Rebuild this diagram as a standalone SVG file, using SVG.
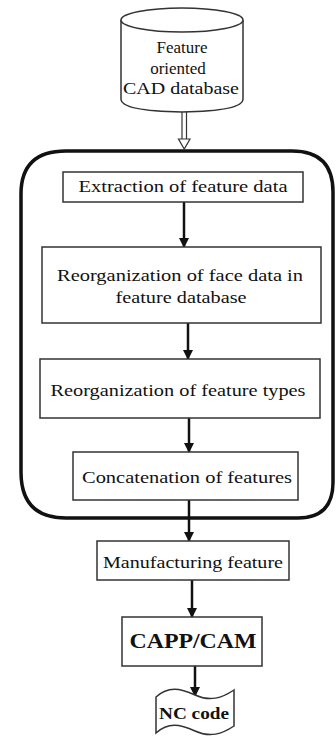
<svg xmlns="http://www.w3.org/2000/svg" width="336" height="736" viewBox="0 0 336 736">
<defs>
<style>
.box{fill:#fff;stroke:#333;stroke-width:1.5}
text{font-family:'Liberation Serif','Times New Roman','DejaVu Serif',serif;font-size:17px;fill:#111;text-anchor:middle}
.b{font-weight:bold}
.c{stroke:#111;stroke-width:2.5;fill:none}
</style>
<marker id="arr" viewBox="0 0 10 10" refX="9" refY="5" markerWidth="4.4" markerHeight="4" orient="auto" markerUnits="strokeWidth">
<path d="M0,0 L10,5 L0,10 Z" fill="#111"/>
</marker>
</defs>
<rect width="336" height="736" fill="#fff"/>

<g id="container">
<path d="M66,151 L292,151 Q333,151 333,192 L333,482 Q333,518 298,518 L66,518 Q21,518 21,472 L21,194 Q21,151 66,151 Z" fill="none" stroke="#111" stroke-width="3.5"/>
</g>

<g id="connectors">
<line x1="182" y1="112" x2="182" y2="139" stroke="#333" stroke-width="1.2"/>
<line x1="186.5" y1="112" x2="186.5" y2="139" stroke="#333" stroke-width="1.2"/>
<path d="M178.5,139 L190,139 L184.25,149 Z" fill="#fff" stroke="#333" stroke-width="1.2"/>
<line class="c" x1="184" y1="202" x2="184" y2="247" marker-end="url(#arr)"/>
<line class="c" x1="188" y1="323" x2="188" y2="359" marker-end="url(#arr)"/>
<line class="c" x1="189" y1="418" x2="189" y2="452" marker-end="url(#arr)"/>
<line class="c" x1="189" y1="500" x2="189" y2="541" marker-end="url(#arr)"/>
<line class="c" x1="192" y1="580" x2="192" y2="617" marker-end="url(#arr)"/>
<line class="c" x1="195" y1="666" x2="195" y2="696" marker-end="url(#arr)"/>
</g>

<g id="cad-db">
<path d="M121,20 L121,99 Q121,111 182,112 Q243,111 243,99 L243,20" fill="#fff" stroke="#333" stroke-width="1.5"/>
<ellipse cx="182" cy="20" rx="61" ry="12" fill="#fff" stroke="#333" stroke-width="1.5"/>
<text font-family="Liberation Serif, serif" x="182" y="53">Feature</text>
<text font-family="Liberation Serif, serif" x="178" y="74">oriented</text>
<text font-family="Liberation Serif, serif" x="181" y="94" textLength="116" lengthAdjust="spacingAndGlyphs">CAD database</text>
</g>

<g id="extraction">
<rect class="box" x="63" y="172" width="240" height="30"/>
<text font-family="Liberation Serif, serif" x="183" y="192" textLength="209" lengthAdjust="spacingAndGlyphs">Extraction of feature data</text>
</g>

<g id="reorg-face">
<rect class="box" x="42" y="247" width="279" height="76"/>
<text font-family="Liberation Serif, serif" x="180" y="281" textLength="246" lengthAdjust="spacingAndGlyphs">Reorganization of face data in</text>
<text font-family="Liberation Serif, serif" x="181" y="303" textLength="131" lengthAdjust="spacingAndGlyphs">feature database</text>
</g>

<g id="reorg-types">
<rect class="box" x="40" y="359" width="280" height="59"/>
<text font-family="Liberation Serif, serif" x="178" y="396" textLength="255" lengthAdjust="spacingAndGlyphs">Reorganization of feature types</text>
</g>

<g id="concat">
<rect class="box" x="73" y="452" width="225" height="48"/>
<text font-family="Liberation Serif, serif" x="187" y="483" textLength="210" lengthAdjust="spacingAndGlyphs">Concatenation of features</text>
</g>

<g id="mfg">
<rect class="box" x="97" y="541" width="192" height="39"/>
<text font-family="Liberation Serif, serif" x="193" y="568" textLength="180" lengthAdjust="spacingAndGlyphs">Manufacturing feature</text>
</g>

<g id="capp">
<rect class="box" x="122" y="617" width="140" height="49"/>
<text class="b" font-family="Liberation Serif, serif" x="193" y="648" style="font-size:21px" textLength="127" lengthAdjust="spacingAndGlyphs">CAPP/CAM</text>
</g>

<g id="nc">
<path d="M156,697 C168,686 180,688 195,695 C210,702 222,698 234,690 L234,726 C222,734 210,738 195,731 C180,724 168,722 156,733 Z" fill="#fff" stroke="#333" stroke-width="1.5"/>
<text class="b" font-family="Liberation Serif, serif" x="194" y="719" textLength="70" lengthAdjust="spacingAndGlyphs">NC code</text>
</g>
</svg>
